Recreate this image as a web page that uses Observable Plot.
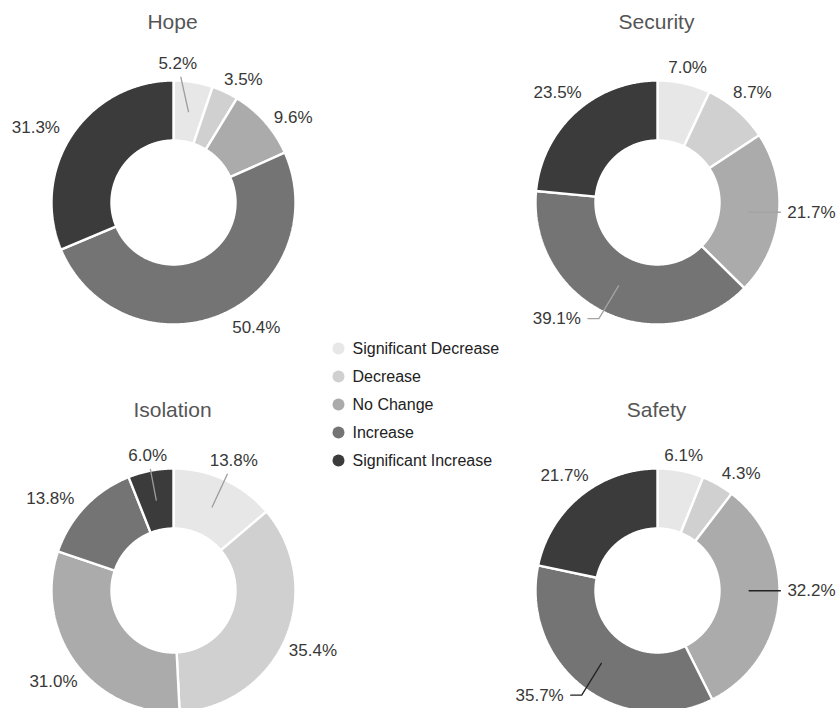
<!DOCTYPE html>
<html>
<head>
<meta charset="utf-8">
<script src="https://cdn.jsdelivr.net/npm/d3@7"></script>
<script src="https://cdn.jsdelivr.net/npm/@observablehq/plot@0.6"></script>
<style>
  html, body { margin: 0; padding: 0; background: #fff; overflow: hidden; }
  #chart { width: 838px; height: 708px; overflow: hidden; }
  #chart svg { display: block; }
</style>
</head>
<body>
<div id="chart"></div>
<script>
// Response categories, in slice order (clockwise from 12 o'clock)
const categories = ["Significant Decrease", "Decrease", "No Change", "Increase", "Significant Increase"];

// Survey topics, one donut each
const topics = ["Hope", "Security", "Isolation", "Safety"];

// Percentage of respondents per category
const hopeValues      = [5.2, 3.5, 9.6, 50.4, 31.3];
const securityValues  = [7.0, 8.7, 21.7, 39.1, 23.5];
const isolationValues = [13.8, 35.4, 31.0, 13.8, 6.0];
const safetyValues    = [6.1, 4.3, 32.2, 35.7, 21.7];

const seriesByTopic = {
  Hope: hopeValues,
  Security: securityValues,
  Isolation: isolationValues,
  Safety: safetyValues
};

// ---- layout -------------------------------------------------------------
const W = 838, H = 708;
const palette = ["#e7e7e7", "#d0d0d0", "#ababab", "#747474", "#3b3b3b"];
const FONT = '"Liberation Sans", Arial, Helvetica, sans-serif';
const colX = [173, 657], rowY = [202, 590];
const panel = {
  Hope:      {cx: colX[0], cy: rowY[0]},
  Security:  {cx: colX[1], cy: rowY[0]},
  Isolation: {cx: colX[0], cy: rowY[1]},
  Safety:    {cx: colX[1], cy: rowY[1]}
};
const R_OUT = 122, R_IN = 62, R_MID = 92, R_EDGE = 121;
const LABEL_GAP = 6, LABEL_H = 14, LABEL_SIZE = 17;

// nudges for labels that are shifted to avoid their neighbours,
// plus the leader-line style used for them
const labelAdjust = {
  Hope: {
    "Significant Decrease": {dx: -18, dy: -4, leader: "below"},
    "Decrease": {dx: 10, dy: 5},
    "No Change": {dx: 10, dy: 12},
    "Increase": {dx: 26, dy: -6},
    "Significant Increase": {dx: -12, dy: 9}
  },
  Security: {
    "No Change": {dx: 3, dy: -5, leader: "side"},
    "Increase": {dx: -40, dy: -14, leader: "side"}
  },
  Isolation: {
    "Significant Decrease": {leader: "below"},
    "Increase": {dx: -15, dy: 11},
    "Significant Increase": {leader: "below"}
  },
  Safety: {
    "Decrease": {dx: 13, dy: 7},
    "No Change": {dx: 3, dy: -14, leader: "side"},
    "Increase": {dx: -28, dy: -12, leader: "side"}
  }
};
const leaderColor = {Hope: "#9c9c9c", Security: "#a4a4a4", Isolation: "#9c9c9c", Safety: "#222"};

// text width helper
const ctx = document.createElement("canvas").getContext("2d");
function textWidth(s, size) {
  ctx.font = `${size}px ${FONT}`;
  return ctx.measureText(s).width;
}
const polar = (cx, cy, r, a) => [cx + r * Math.sin(a), cy - r * Math.cos(a)];

// ---- derived geometry ---------------------------------------------------
const ringPoints = [];   // outline points of each donut slice
const labels = [];       // percentage labels
const leaders = [];      // leader line vertices
topics.forEach(topic => {
  const values = seriesByTopic[topic];
  const {cx, cy} = panel[topic];
  const total = d3.sum(values);
  let acc = 0;
  values.forEach((v, i) => {
    const category = categories[i];
    const a0 = acc / total * 2 * Math.PI;
    acc += v;
    const a1 = acc / total * 2 * Math.PI;
    const key = `${topic}|${category}`;
    const n = Math.max(2, Math.ceil((a1 - a0) / (Math.PI / 360)));
    for (let k = 0; k <= n; ++k) {
      const [x, y] = polar(cx, cy, R_OUT, a0 + (a1 - a0) * k / n);
      ringPoints.push({key, topic, category, x, y});
    }
    for (let k = n; k >= 0; --k) {
      const [x, y] = polar(cx, cy, R_IN, a0 + (a1 - a0) * k / n);
      ringPoints.push({key, topic, category, x, y});
    }

    // label placed outside the ring along the slice's middle angle
    const am = (a0 + a1) / 2;
    const text = `${v.toFixed(1)}%`;
    const w = textWidth(text, LABEL_SIZE);
    const ux = Math.sin(am), uy = Math.cos(am);
    const dist = R_EDGE + LABEL_GAP + (w / 2) * Math.abs(ux) + (LABEL_H / 2) * Math.abs(uy);
    const adj = (labelAdjust[topic] || {})[category] || {};
    const lx = cx + ux * dist + (adj.dx || 0);
    const ly = cy - uy * dist + (adj.dy || 0);
    labels.push({topic, category, text, x: lx, y: ly});

    if (adj.leader) {
      const [sx, sy] = polar(cx, cy, R_MID, am);
      let pts;
      if (adj.leader === "below") {
        const y0 = ly + LABEL_H / 2 + 7;
        const t = (y0 - ly) / (sy - ly);
        pts = [[lx + (sx - lx) * t, y0], [sx, sy]];
      } else {
        const s = sx > lx ? 1 : -1;
        const e0 = lx + s * (w / 2 + 7);
        pts = Math.abs(sy - ly) < 15
          ? [[e0, ly], [sx, ly]]
          : [[e0, ly], [e0 + s * 11, ly], [sx, sy]];
      }
      pts.forEach(([x, y]) => leaders.push({key, topic, x, y}));
    }
  });
});

const titles = topics.map(topic => ({topic, x: panel[topic].cx - 1, y: panel[topic].cy - 180}));

// legend rows in the centre of the grid
const legendRows = categories.map((category, i) => ({category, x: 338, y: 348 + i * 28}));

// ---- chart --------------------------------------------------------------
const chart = Plot.plot({
  width: W,
  height: H,
  margin: 0,
  x: {domain: [0, W], range: [0, W], axis: null},
  y: {domain: [0, H], range: [0, H], axis: null},
  color: {type: "ordinal", domain: categories, range: palette},
  style: {fontFamily: FONT, background: "#fff"},
  marks: [
    Plot.line(ringPoints, {
      x: "x", y: "y", z: "key", fill: "category",
      stroke: "#fff", strokeWidth: 2.4, strokeLinejoin: "miter", curve: "linear-closed"
    }),
    Plot.line(leaders.filter(d => d.topic !== "Safety"), {
      x: "x", y: "y", z: "key", stroke: d => leaderColor[d.topic], strokeWidth: 1.3
    }),
    Plot.line(leaders.filter(d => d.topic === "Safety"), {
      x: "x", y: "y", z: "key", stroke: leaderColor.Safety, strokeWidth: 1.3
    }),
    Plot.text(labels, {
      x: "x", y: "y", text: "text", fontSize: LABEL_SIZE, fill: "#383838"
    }),
    Plot.text(titles, {
      x: "x", y: "y", text: "topic", fontSize: 21, fill: "#555"
    }),
    Plot.dot(legendRows, {x: "x", y: "y", r: 6, fill: "category"}),
    Plot.text(legendRows, {
      x: d => d.x + 14, y: "y", text: "category", textAnchor: "start", fontSize: 16, fill: "#222"
    })
  ]
});

document.getElementById("chart").appendChild(chart);
</script>
</body>
</html>
